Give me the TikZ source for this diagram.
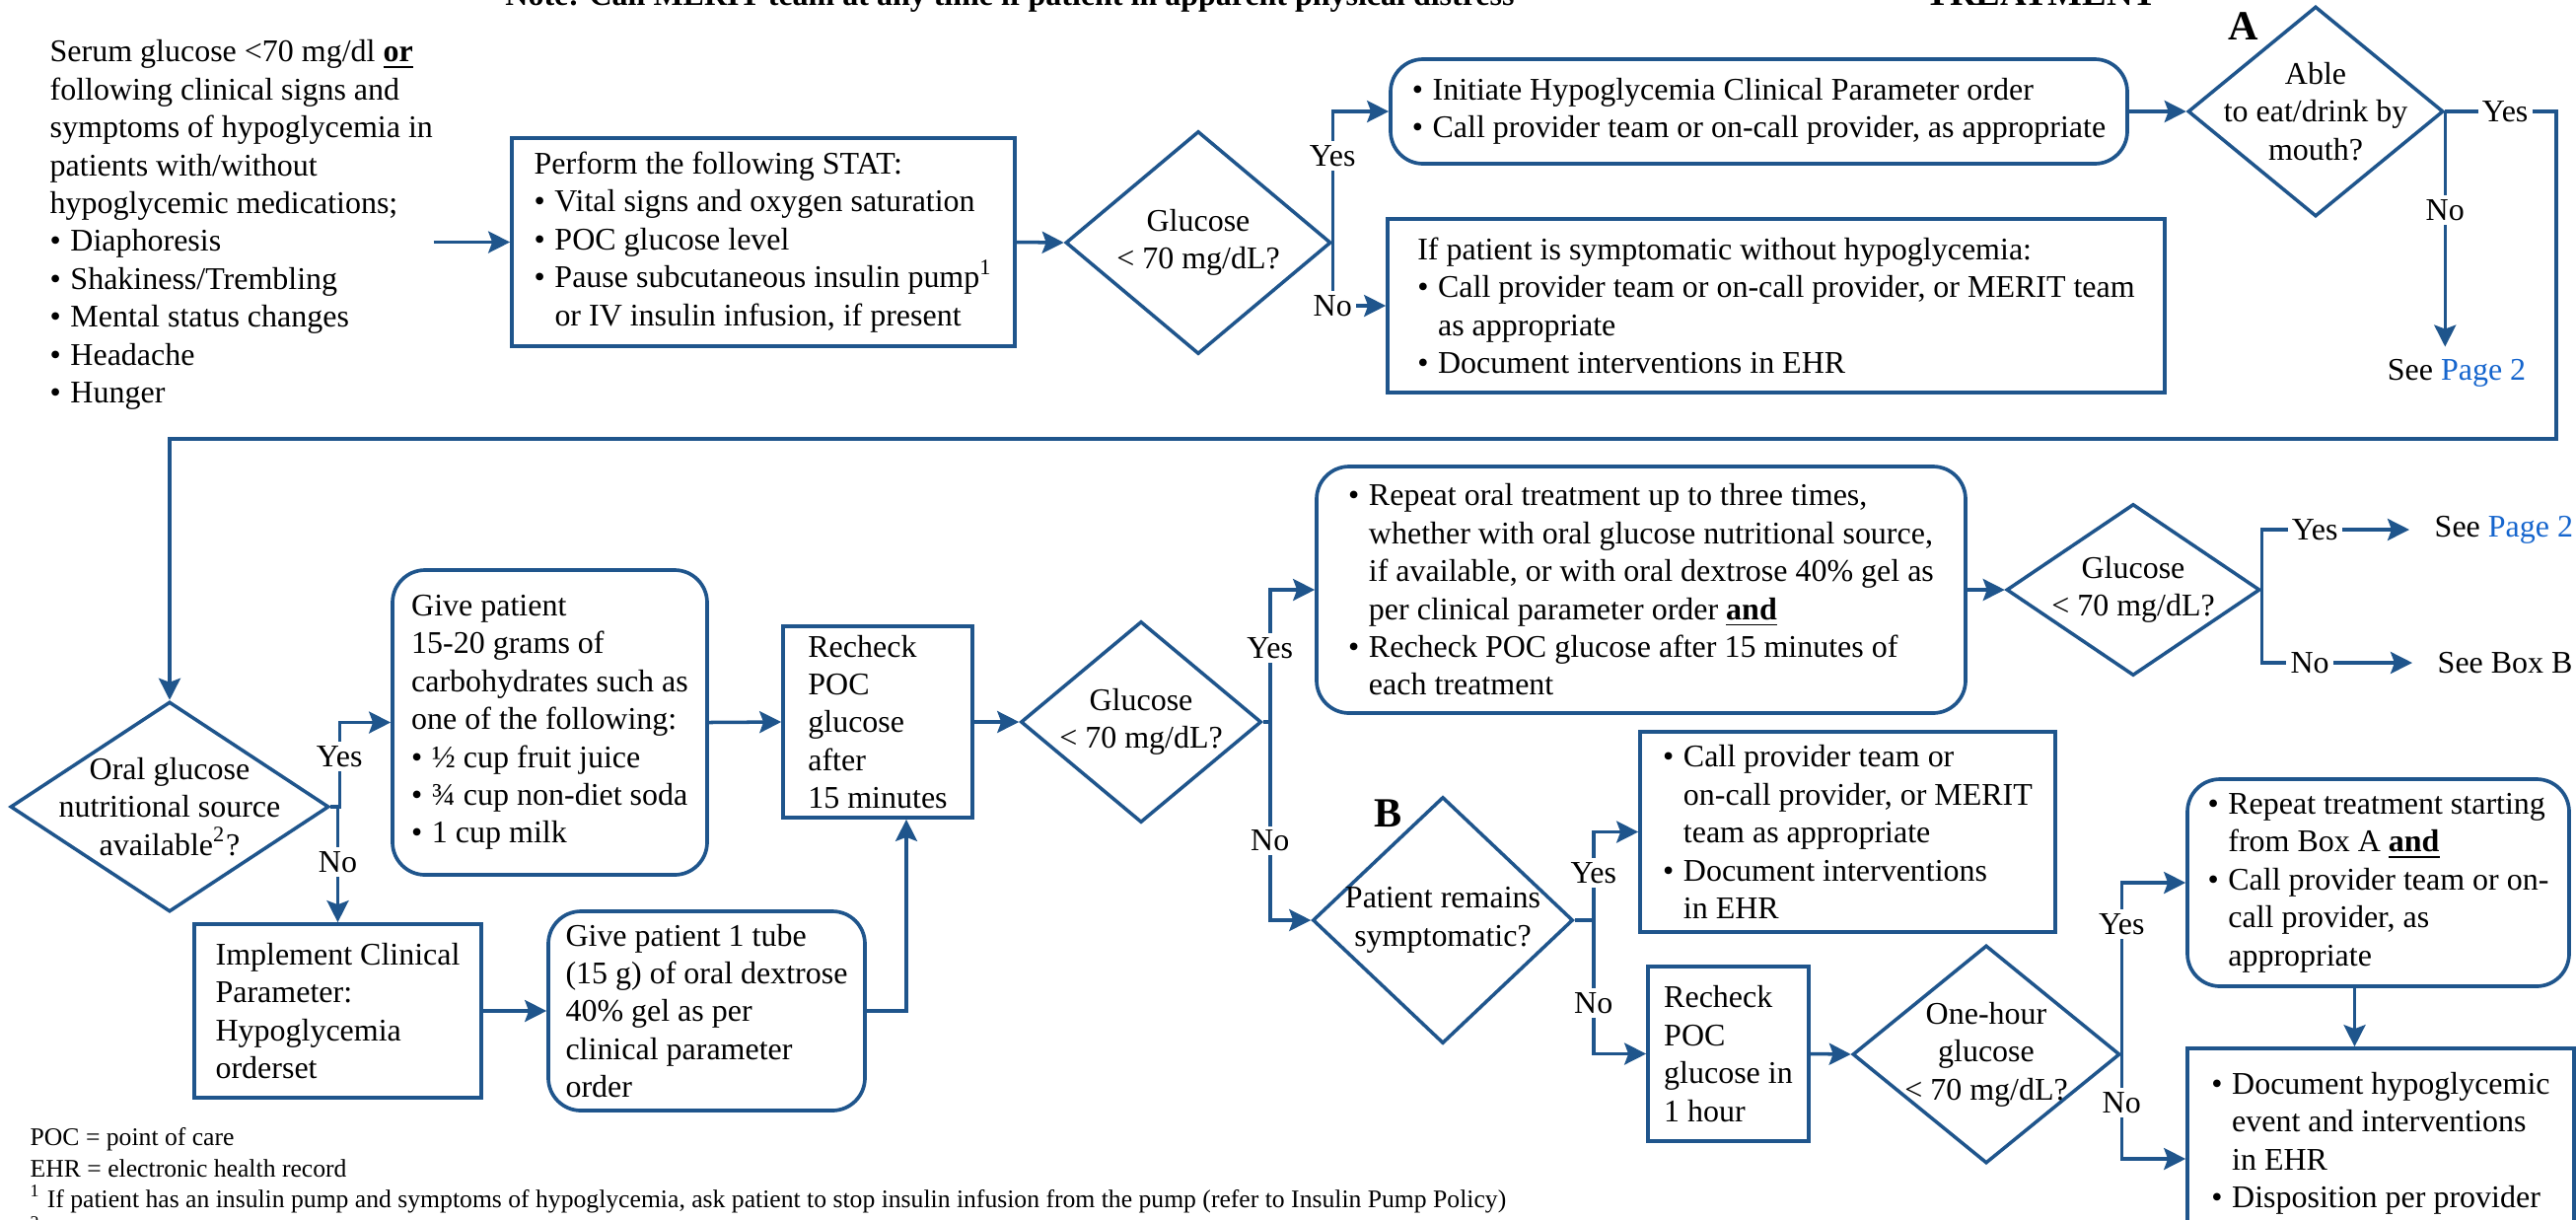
\documentclass[tikz,border=0pt]{standalone}
\usepackage{fontspec}
\setmainfont{Liberation Serif}
\usepackage{xcolor}
\definecolor{flowblue}{RGB}{31, 85, 140}
\definecolor{linkblue}{RGB}{21, 101, 205}
\usetikzlibrary{
  arrows.meta,
  positioning,
  shapes.geometric,
  calc
}
\newcommand{\flbul}{\textbullet\hspace{0.3em}}
\newcommand{\flind}{\phantom{\textbullet\hspace{0.3em}}}

\begin{document}
\begin{tikzpicture}[
  x=0.1mm, y=-0.1mm,
  font=\fontsize{9.1}{10.93}\selectfont,
  box/.style={
    draw=flowblue, line width=1.05pt,
    align=left, inner sep=0pt
  },
  rbox/.style={box, rounded corners=3.3mm},
  dia/.style={
    diamond, draw=flowblue, line width=1pt, inner sep=0pt
  },
  arr/.style={
    draw=flowblue, line width=1pt,
    -{Stealth[length=2.2mm, width=2.2mm, inset=0.4mm]}
  },
  lbl/.style={fill=white, inner sep=1.2pt},
  boxlabel/.style={font=\fontsize{12}{14}\selectfont\bfseries, inner sep=0pt},
  fnote/.style={font=\fontsize{7.3}{9}\selectfont, inner sep=0pt}
]
\useasboundingbox (0,0) rectangle (2612,1236);
\clip (0,0) rectangle (2612,1236);

% heading (cut off at the top)
\node[anchor=base west, font=\fontsize{9.1}{11}\selectfont\bfseries] (note) at (500,5)
  {Note: Call MERIT team at any time if patient in apparent physical distress};
\node[anchor=base west, font=\fontsize{10.5}{12}\selectfont\bfseries] (treat) at (1940,5) {TREATMENT};

% first row
\node[align=left, anchor=west, inner sep=0pt] (intro) at (50,228) {%
  Serum glucose <70 mg/dl \textbf{\underline{or}}\\
  following clinical signs and\\
  symptoms of hypoglycemia in\\
  patients with/without\\
  hypoglycemic medications;\\
  \flbul Diaphoresis\\
  \flbul Shakiness/Trembling\\
  \flbul Mental status changes\\
  \flbul Headache\\
  \flbul Hunger};
\node[box, minimum width=51mm, minimum height=21.1mm] (stat) at (774,245.5) {%
  Perform the following STAT:\\
  \flbul Vital signs and oxygen saturation\\
  \flbul POC glucose level\\
  \flbul Pause subcutaneous insulin pump\textsuperscript{1}\\
  \flind or IV insulin infusion, if present};
\node[dia, minimum width=26.9mm, minimum height=22.6mm,
  label={[align=center]center:{Glucose\\< 70 mg/dL?}}] (gluA) at (1215,246) {};
\node[rbox, minimum width=74.7mm, minimum height=10.6mm] (init) at (1783.5,113) {%
  \flbul Initiate Hypoglycemia Clinical Parameter order\\
  \flbul Call provider team or on-call provider, as appropriate};
\node[box, minimum width=78.8mm, minimum height=17.6mm] (symp) at (1801,310) {%
  If patient is symptomatic without hypoglycemia:\\
  \flbul Call provider team or on-call provider, or MERIT team\\
  \flind as appropriate\\
  \flbul Document interventions in EHR};
\node[dia, minimum width=25.9mm, minimum height=21.3mm,
  label={[align=center]center:{Able\\to eat/drink by\\mouth?}}] (able) at (2348,113) {};
\node[boxlabel] (labA) at (2275,27) {A};
\node (seeA) at (2491,378) {See \textcolor{linkblue}{Page 2}};
\coordinate (loopR) at (2592,445);

% second row
\node[dia, minimum width=32.3mm, minimum height=21.3mm,
  label={[align=center]center:{Oral glucose\\nutritional source\\available\textsuperscript{2}?}}] (oral) at (172,818) {};
\node[rbox, minimum width=31.9mm, minimum height=30.9mm] (give) at (557.5,732.5) {%
  Give patient\\
  15-20 grams of\\
  carbohydrates such as\\
  one of the following:\\
  \flbul ½ cup fruit juice\\
  \flbul ¾ cup non-diet soda\\
  \flbul 1 cup milk};
\node[box, minimum width=19.2mm, minimum height=19.4mm] (rchk) at (890,732) {%
  Recheck\\POC\\glucose\\after\\15 minutes};
\node[box, minimum width=29.1mm, minimum height=17.6mm] (impl) at (342.5,1025) {%
  Implement Clinical\\Parameter:\\Hypoglycemia\\orderset};
\node[rbox, minimum width=32.1mm, minimum height=20.2mm] (tube) at (716.5,1025) {%
  Give patient 1 tube\\(15 g) of oral dextrose\\40\% gel as per\\clinical parameter\\order};
\node[dia, minimum width=24.4mm, minimum height=20.4mm,
  label={[align=center]center:{Glucose\\< 70 mg/dL?}}] (gluB) at (1157,732) {};
\node[rbox, minimum width=65.8mm, minimum height=25mm] (rept) at (1664,598) {%
  \flbul Repeat oral treatment up to three times,\\
  \flind whether with oral glucose nutritional source,\\
  \flind if available, or with oral dextrose 40\% gel as\\
  \flind per clinical parameter order \textbf{\underline{and}}\\
  \flbul Recheck POC glucose after 15 minutes of\\
  \flind each treatment};
\node[dia, minimum width=25.7mm, minimum height=17.4mm,
  label={[align=center]center:{Glucose\\< 70 mg/dL?}}] (gluC) at (2163,598) {};
\node[anchor=west, inner xsep=2.5mm] (seeP) at (2443,537) {See \textcolor{linkblue}{Page 2}};
\node[anchor=west, inner xsep=2.5mm] (seeB) at (2446,672) {See Box B};

% box B
\node[dia, minimum width=26.4mm, minimum height=25mm,
  label={[align=center]center:{Patient remains\\symptomatic?}}] (pat) at (1463,933) {};
\node[boxlabel] (labB) at (1408,825) {B};
\node[box, minimum width=42.1mm, minimum height=20.3mm] (call) at (1873.5,843.5) {%
  \flbul Call provider team or\\
  \flind on-call provider, or MERIT\\
  \flind team as appropriate\\
  \flbul Document interventions\\
  \flind in EHR};
\node[box, minimum width=16.3mm, minimum height=17.7mm] (rchkH) at (1752.5,1068.5) {%
  Recheck\\POC\\glucose in\\1 hour};
\node[dia, minimum width=27.1mm, minimum height=22.1mm,
  label={[align=center]center:{One-hour\\glucose\\< 70 mg/dL?}}] (oneh) at (2014,1069) {};
\node[rbox, minimum width=38.7mm, minimum height=21mm] (again) at (2411.5,895) {%
  \flbul Repeat treatment starting\\
  \flind from Box A \textbf{\underline{and}}\\
  \flbul Call provider team or on-\\
  \flind call provider, as\\
  \flind appropriate};
\node[box, minimum width=39.2mm, minimum height=22.4mm] (doc) at (2414,1175) {%
  \flbul Document hypoglycemic\\
  \flind event and interventions\\
  \flind in EHR\\
  \flbul Disposition per provider\\
  \mbox{}};

% footnotes
\node[fnote, anchor=base west] (fnPoc) at (30,1161) {POC = point of care};
\node[fnote, anchor=base west] (fnEhr) at (30,1193) {EHR = electronic health record};
\node[fnote, anchor=base west] (fnOne) at (30,1224)
  {\textsuperscript{1} If patient has an insulin pump and symptoms of hypoglycemia, ask patient to stop insulin infusion from the pump (refer to Insulin Pump Policy)};
\node[fnote, anchor=base west] (fnTwo) at (30,1256) {\textsuperscript{2}};

% connectors
\draw[arr] (intro.east |- stat.west) -- (stat.west);
\draw[arr] (stat.east) -- (gluA.west);
\draw[arr] (gluA.east) |- (init.west) node[lbl, pos=0.33] {Yes};
\draw[arr] (gluA.east) |- (symp.west) node[lbl, pos=0.5] {No};
\draw[arr] (init.east) -- (able.west);
\draw[arr] (able.east) -- (able.east |- seeA.north) node[lbl, pos=0.42] {No};
\draw[arr] (able.east) -| node[lbl, pos=0.27] {Yes} (loopR) -| (oral.north);
\draw[arr] (oral.east) -- ++(9,0) |- (give.west) node[lbl, pos=0.3] {Yes};
\draw[arr] (oral.east) -| (impl.north) node[lbl, pos=0.74] {No};
\draw[arr] (give.east) -- (rchk.west);
\draw[arr] (impl.east) -- (tube.west);
\draw[arr] (tube.east) -| ([xshift=2.9mm]rchk.south);
\draw[arr] (rchk.east) -- (gluB.west);
\draw[arr] (gluB.east) -- ++(7,0) |- (rept.west) node[lbl, pos=0.28] {Yes};
\draw[arr] (gluB.east) -- ++(7,0) |- (pat.west) node[lbl, pos=0.3] {No};
\draw[arr] (rept.east) -- (gluC.west);
\draw[arr] (gluC.east) |- (seeP.west) node[lbl, pos=0.68] {Yes};
\draw[arr] (gluC.east) |- (seeB.west) node[lbl, pos=0.66] {No};
\draw[arr] (pat.east) -- ++(19,0) |- (call.west) node[lbl, pos=0.27] {Yes};
\draw[arr] (pat.east) -- ++(19,0) |- (rchkH.west) node[lbl, pos=0.31] {No};
\draw[arr] (rchkH.east) -- (oneh.west);
\draw[arr] (oneh.east) |- (again.west) node[lbl, pos=0.38] {Yes};
\draw[arr] (oneh.east) |- (doc.west) node[lbl, pos=0.23] {No};
\draw[arr] ([xshift=-2.4mm]again.south) -- ([xshift=-2.4mm]again.south |- doc.north);
\end{tikzpicture}
\end{document}
